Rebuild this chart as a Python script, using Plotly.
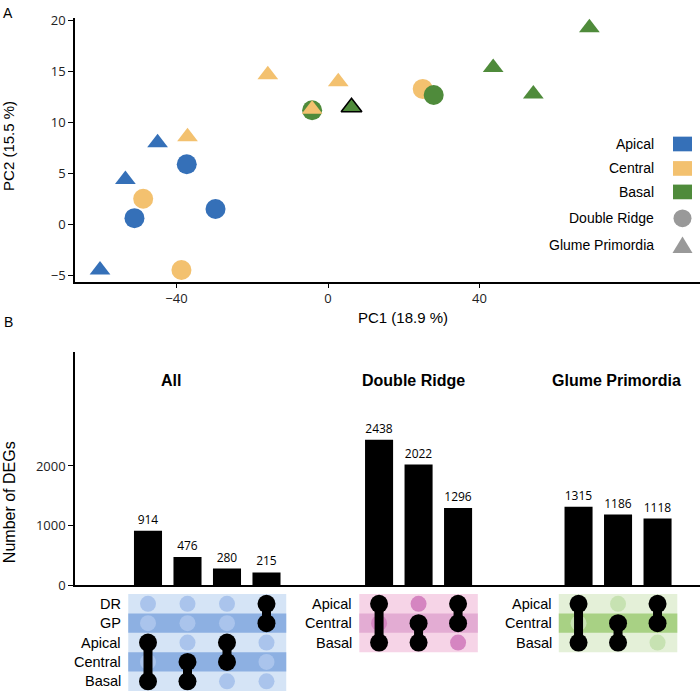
import plotly.graph_objects as go

W = H = 700
def px(x):
    return x / W
def py(y):
    return 1 - y / H

# ---------------- Panel A data (PCA) ----------------
tissues = ["Apical", "Central", "Basal"]
tissue_colors = ["#3570b8", "#f3c16f", "#4f8b3b"]
stage_names = ["Double Ridge", "Glume Primordia"]

apical_dr_pc1 = [-51.1, -37.3, -29.7]
apical_dr_pc2 = [0.6, 5.9, 1.5]
apical_gp_pc1 = [-60.2, -53.5, -45.0]
apical_gp_pc2 = [-4.5, 4.4, 8.0]
central_dr_pc1 = [-48.8, -38.7, 25.0]
central_dr_pc2 = [2.5, -4.5, 13.3]
central_gp_pc1 = [-15.9, 2.7, -37.1, -4.2]
central_gp_pc2 = [14.7, 14.0, 8.6, 11.3]
basal_dr_pc1 = [-4.2, 27.9]
basal_dr_pc2 = [11.2, 12.7]
basal_gp_pc1 = [6.2, 69.0, 43.6, 54.2]
basal_gp_pc2 = [11.5, 19.3, 15.4, 12.8]
basal_gp_outlined = [True, False, False, False]

pc1_ticks = [-40, 0, 40]
pc2_ticks = [-5, 0, 5, 10, 15, 20]

# ---------------- Panel B data (UpSet) ----------------
group_titles = ["All", "Double Ridge", "Glume Primordia"]
all_sets = ["DR", "GP", "Apical", "Central", "Basal"]
all_members = [["Apical", "Basal"], ["Central", "Basal"], ["Apical", "Central"], ["DR", "GP"]]
all_counts = [914, 476, 280, 215]
dr_sets = ["Apical", "Central", "Basal"]
dr_members = [["Apical", "Basal"], ["Central", "Basal"], ["Apical", "Central"]]
dr_counts = [2438, 2022, 1296]
gp_sets = ["Apical", "Central", "Basal"]
gp_members = [["Apical", "Basal"], ["Central", "Basal"], ["Apical", "Central"]]
gp_counts = [1315, 1186, 1118]
deg_ticks = [0, 1000, 2000]

# layout constants for panel B
group_start = [0.0, 5.85, 10.9]
bar_width = 0.71
matrix_colors = [
    ("#d5e4f6", "#8db0e2", "#aac4ec"),
    ("#f6d4e7", "#e3acd3", "#d585c1"),
    ("#e4f0d8", "#a8d184", "#c7e2b2"),
]

fig = go.Figure()

# ---------------- Panel A traces ----------------
pca = {
    ("Apical", 0): (apical_dr_pc1, apical_dr_pc2),
    ("Apical", 1): (apical_gp_pc1, apical_gp_pc2),
    ("Central", 0): (central_dr_pc1, central_dr_pc2),
    ("Central", 1): (central_gp_pc1, central_gp_pc2),
    ("Basal", 0): (basal_dr_pc1, basal_dr_pc2),
    ("Basal", 1): (basal_gp_pc1, basal_gp_pc2),
}
symbols = ["circle", "triangle-up"]
sizes = [20, 18]
for s in range(2):
    for t, col in zip(tissues, tissue_colors):
        xs, ys = pca[(t, s)]
        if t == "Basal" and s == 1:
            lw = [1.6 if o else 0 for o in basal_gp_outlined]
        else:
            lw = 0
        fig.add_trace(go.Scatter(
            x=xs, y=ys, mode="markers", xaxis="x", yaxis="y",
            marker=dict(symbol=symbols[s], size=sizes[s], color=col,
                        line=dict(color="black", width=lw)),
            name=f"{t} {stage_names[s]}", hoverinfo="skip"))

# ---------------- Panel B traces ----------------
groups = [
    (all_sets, all_members, all_counts),
    (dr_sets, dr_members, dr_counts),
    (gp_sets, gp_members, gp_counts),
]
shapes = []
annotations = []
for g, (sets, members, counts) in enumerate(groups):
    x0 = group_start[g]
    xs = [x0 + i for i in range(len(counts))]
    fig.add_trace(go.Bar(
        x=xs, y=counts, xaxis="x2", yaxis="y2", width=bar_width,
        marker=dict(color="black", line=dict(width=0)),
        text=[str(c) for c in counts], textposition="outside",
        textfont=dict(family="Open Sans", size=12, color="black"),
        cliponaxis=False, hoverinfo="skip"))
    light, dark, dot = matrix_colors[g]
    n = len(sets)
    shapes.append(dict(type="rect", xref="x3", yref="y3", layer="below",
                       x0=x0 - 0.5, x1=x0 + len(counts) - 0.5,
                       y0=-0.5, y1=n - 0.5, fillcolor=light, line=dict(width=0)))
    for r in range(n):
        if r % 2 == 1:
            shapes.append(dict(type="rect", xref="x3", yref="y3", layer="below",
                               x0=x0 - 0.5, x1=x0 + len(counts) - 0.5,
                               y0=r - 0.5, y1=r + 0.5, fillcolor=dark, line=dict(width=0)))
        annotations.append(dict(xref="x3", yref="y3", x=x0 - 0.5, y=r, xshift=-5,
                                text=sets[r], showarrow=False, xanchor="right",
                                yanchor="middle",
                                font=dict(family="Liberation Sans", size=14.5, color="black")))
    # light dots
    lx, ly = [], []
    for i in range(len(counts)):
        for r in range(n):
            lx.append(xs[i]); ly.append(r)
    fig.add_trace(go.Scatter(x=lx, y=ly, mode="markers", xaxis="x3", yaxis="y3",
                             marker=dict(size=16, color=dot), hoverinfo="skip"))
    # black connectors + dots
    for i, mem in enumerate(members):
        rows = [sets.index(m) for m in mem]
        fig.add_trace(go.Scatter(x=[xs[i], xs[i]], y=[min(rows), max(rows)], mode="lines",
                                 xaxis="x3", yaxis="y3",
                                 line=dict(color="black", width=9), hoverinfo="skip"))
        fig.add_trace(go.Scatter(x=[xs[i]] * len(rows), y=rows, mode="markers",
                                 xaxis="x3", yaxis="y3",
                                 marker=dict(size=18, color="black"), hoverinfo="skip"))

# group titles
title_px = [171, 413, 616]
for t, xp in zip(group_titles, title_px):
    annotations.append(dict(xref="paper", yref="paper", x=px(xp), y=py(383), text=f"<b>{t}</b>",
                            showarrow=False, xanchor="center", yanchor="middle",
                            font=dict(family="Liberation Sans", size=16, color="black")))

# ---------------- Legend for panel A ----------------
leg_y = [141, 166, 190, 217, 244]
leg_labels = tissues + stage_names
for lab, yy in zip(leg_labels, leg_y):
    annotations.append(dict(xref="paper", yref="paper", x=px(656), y=py(yy), text=lab,
                            showarrow=False, xanchor="right", yanchor="middle",
                            font=dict(family="Liberation Sans", size=14, color="black")))
for col, yy in zip(tissue_colors, leg_y[:3]):
    shapes.append(dict(type="rect", xref="paper", yref="paper",
                       x0=px(673), x1=px(692), y0=py(yy + 7.5), y1=py(yy - 7.5),
                       fillcolor=col, line=dict(width=0)))
shapes.append(dict(type="circle", xref="paper", yref="paper",
                   x0=px(673.5), x1=px(691.5), y0=py(leg_y[3] + 9), y1=py(leg_y[3] - 9),
                   fillcolor="#999999", line=dict(width=0)))
ty = leg_y[4]
shapes.append(dict(type="path", xref="paper", yref="paper",
                   path=f"M {px(672.5)} {py(ty + 8.5)} L {px(692.5)} {py(ty + 8.5)} L {px(682.5)} {py(ty - 8.5)} Z",
                   fillcolor="#999999", line=dict(width=0)))

# axis titles and panel labels
annotations += [
    dict(xref="paper", yref="paper", x=px(8), y=py(7), text="A", showarrow=False,
         xanchor="center", yanchor="middle",
         font=dict(family="Liberation Sans", size=14, color="black")),
    dict(xref="paper", yref="paper", x=px(8), y=py(323), text="B", showarrow=False,
         xanchor="center", yanchor="middle",
         font=dict(family="Liberation Sans", size=14, color="black")),
    dict(xref="paper", yref="paper", x=px(403), y=py(318), text="PC1 (18.9 %)", showarrow=False,
         xanchor="center", yanchor="middle",
         font=dict(family="Liberation Sans", size=15, color="black")),
    dict(xref="paper", yref="paper", x=px(9), y=py(143), text="PC2 (15.5 %)", showarrow=False,
         xanchor="center", yanchor="middle",
         textangle=-90, font=dict(family="Liberation Sans", size=15, color="black")),
    dict(xref="paper", yref="paper", x=px(9), y=py(507), text="Number of DEGs", showarrow=False,
         xanchor="center", yanchor="middle",
         textangle=-90, font=dict(family="Liberation Sans", size=16, color="black")),
]

axis_common = dict(showgrid=False, zeroline=False, showline=True, linecolor="black",
                   linewidth=1.5, ticks="outside", tickcolor="black", tickwidth=1,
                   tickfont=dict(family="Open Sans", size=13, color="#222222"))

fig.update_layout(
    width=W, height=H, margin=dict(l=0, r=0, t=0, b=0),
    paper_bgcolor="white", plot_bgcolor="white", showlegend=False,
    xaxis=dict(domain=[px(75), 1], range=[-66.8, 98.2], tickvals=pc1_ticks, ticklen=4,
               anchor="y", **axis_common),
    yaxis=dict(domain=[py(282), py(12)], range=[-5.67, 20.29], tickvals=pc2_ticks, ticklen=5,
               anchor="x", **axis_common),
    xaxis2=dict(domain=[px(75), 1], range=[-1.848, 13.975], anchor="y2", showgrid=False,
                zeroline=False, showline=True, linecolor="black", linewidth=1.5,
                showticklabels=False, ticks=""),
    yaxis2=dict(domain=[py(592), py(354)], range=[0, 3902], tickvals=deg_ticks, ticklen=5,
                anchor="x2", **axis_common),
    xaxis3=dict(domain=[px(75), 1], range=[-1.848, 13.975], anchor="y3", visible=False),
    yaxis3=dict(domain=[0, py(601)], range=[4.5, -0.5], anchor="x3", visible=False),
    shapes=shapes, annotations=annotations,
)

fig.write_html("out.html", config={"displayModeBar": False},
               post_script="document.body.style.margin='0';document.body.style.overflow='hidden';")
